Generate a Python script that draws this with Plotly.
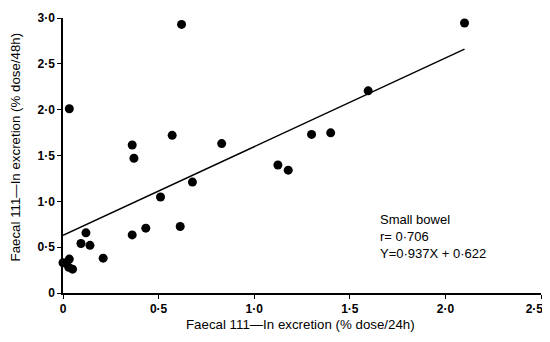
import plotly.graph_objects as go

# Faecal 111-In excretion: %dose/24h (x) vs %dose/48h (y)
x_24h = [0.00, 0.033, 0.030, 0.050, 0.094, 0.120, 0.141, 0.210, 0.362, 0.433,
         0.510, 0.613, 0.677, 0.033, 0.362, 0.371, 0.571, 0.620, 0.830, 1.124,
         1.178, 1.300, 1.400, 1.596, 2.100]
y_48h = [0.33, 0.37, 0.28, 0.26, 0.54, 0.656, 0.52, 0.38, 0.634, 0.707,
         1.047, 0.725, 1.21, 2.01, 1.615, 1.47, 1.72, 2.93, 1.63, 1.396,
         1.34, 1.73, 1.747, 2.205, 2.945]

# regression line as drawn (endpoints)
line_x = [0.0, 2.1]
line_y = [0.63, 2.66]

x_ticks = [0, 0.5, 1.0, 1.5, 2.0, 2.5]
# last label padded so it stays inside the visible page edge
x_tick_labels = ["0", "0·5", "1·0", "1·5", "2·0", "2·5\u00a0\u00a0\u00a0\u00a0"]
y_ticks = [0, 0.5, 1.0, 1.5, 2.0, 2.5, 3.0]
y_tick_labels = ["0", "0·5", "1·0", "1·5", "2·0", "2·5", "3·0"]

font_family = "Liberation Sans, Arial, sans-serif"

fig = go.Figure()
fig.add_trace(go.Scatter(x=line_x, y=line_y, mode="lines",
                         line=dict(color="black", width=1.5),
                         hoverinfo="skip", showlegend=False, cliponaxis=False))
fig.add_trace(go.Scatter(x=x_24h, y=y_48h, mode="markers",
                         marker=dict(color="black", size=9),
                         showlegend=False, cliponaxis=False))

fig.add_annotation(x=1.647, y=0.62, xref="x", yref="y", xanchor="left", yanchor="middle",
                   text="Small bowel<br>r= 0·706<br>Y=0·937X + 0·622",
                   showarrow=False, align="left",
                   font=dict(family=font_family, size=13, color="black"))

# axis titles
fig.add_annotation(x=0.496, y=-0.113, xref="x domain", yref="y domain", yanchor="middle",
                   text="Faecal 111—In excretion (% dose/24h)", showarrow=False,
                   font=dict(family=font_family, size=13.3, color="black"))
fig.add_annotation(x=-0.1, y=0.53, xref="x domain", yref="y domain", xanchor="center",
                   text="Faecal 111—In excretion (% dose/48h)", showarrow=False,
                   textangle=-90,
                   font=dict(family=font_family, size=13.3, color="black"))

# page body has an 8px margin, so the figure is offset/sized to compensate
fig.update_layout(
    width=542, height=326,
    margin=dict(l=55, r=9, t=10, b=41, autoexpand=False),
    paper_bgcolor="white", plot_bgcolor="white",
    font=dict(family=font_family, color="black", size=12),
    xaxis=dict(range=[0, 2.5], tickvals=x_ticks, ticktext=x_tick_labels,
               showgrid=False, zeroline=False, showline=True, linecolor="black",
               linewidth=1.5, ticks="outside", ticklen=4, tickcolor="black",
               automargin=False, ticklabeloverflow="allow",
               tickfont=dict(size=12, family=font_family, weight="bold")),
    yaxis=dict(range=[0, 3.0], tickvals=y_ticks, ticktext=y_tick_labels,
               showgrid=False, zeroline=False, showline=True, linecolor="black",
               linewidth=1.5, ticks="outside", ticklen=4, tickcolor="black",
               automargin=False, ticklabeloverflow="allow",
               tickfont=dict(size=12, family=font_family, weight="bold")),
)

fig.write_html("out.html")
